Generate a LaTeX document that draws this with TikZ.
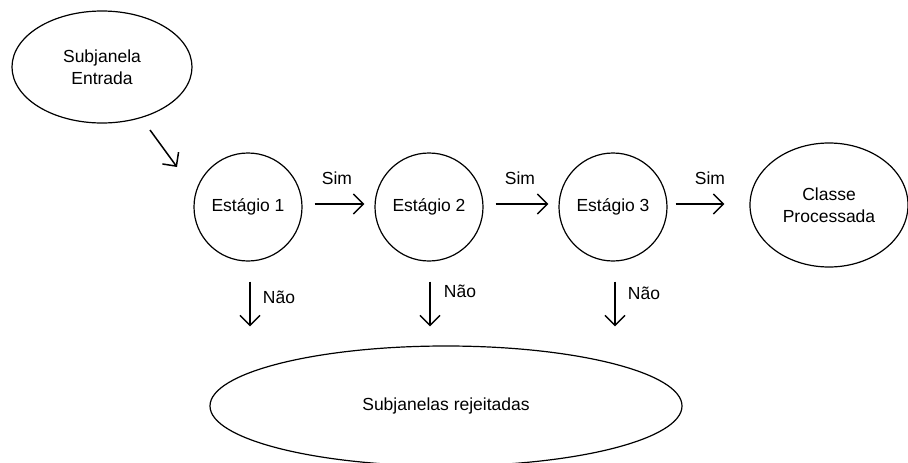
\documentclass[tikz,border=0pt]{standalone}
\usepackage{fontspec}
\setmainfont{Liberation Sans}
\usetikzlibrary{shapes.geometric,arrows.meta}
\begin{document}
\begin{tikzpicture}[x=1pt,y=-1pt,
  txt/.style={font=\fontsize{17.5}{21.5}\selectfont, align=center},
  stage/.style={txt, circle, draw, line width=1.2pt, minimum size=108pt, inner sep=0pt},
  oval/.style={txt, ellipse, draw, line width=1.2pt, inner sep=0pt},
  arr/.style={line width=1.5pt, -{Straight Barb[length=10pt,width=20pt,line width=1.5pt]}},
  lbl/.style={txt, inner sep=0pt}]
\useasboundingbox (0,0) rectangle (908,463);
\clip (0,0) rectangle (908,463);
\node[oval, minimum width=180pt, minimum height=112pt] (in) at (102,67) {Subjanela\\Entrada};
\node[stage] (s1) at (248,207) {Estágio 1};
\node[stage] (s2) at (429,207) {Estágio 2};
\node[stage] (s3) at (613,207) {Estágio 3};
\node[oval, minimum width=158pt, minimum height=124pt] (cp) at (829,205) {Classe\\Processada};
\node[oval, minimum width=472pt, minimum height=120pt] (rej) at (446,406) {Subjanelas rejeitadas};
\coordinate (a0) at (150,130);
\coordinate (a1) at (177,167);
\draw[arr] (a0) -- (a1);
\draw[arr, shorten <=12pt, shorten >=10pt] ([yshift=3pt]s1.east) -- ([yshift=3pt]s2.west);
\draw[arr, shorten <=12pt, shorten >=10pt] ([yshift=3pt]s2.east) -- ([yshift=3pt]s3.west);
\draw[arr, shorten <=8pt, shorten >=25pt] ([yshift=3pt]s3.east) -- ([yshift=3pt]s3.east -| cp.west);
\draw[arr, shorten <=20pt, shorten >=19pt] ([xshift=2pt]s1.south) -- ([xshift=2pt]s1.south |- rej.north);
\draw[arr, shorten <=20pt, shorten >=19pt] ([xshift=1pt]s2.south) -- ([xshift=1pt]s2.south |- rej.north);
\draw[arr, shorten <=20pt, shorten >=19pt] ([xshift=2pt]s3.south) -- ([xshift=2pt]s3.south |- rej.north);
\node[lbl] (l1) at (337,178) {Sim};
\node[lbl] (l2) at (520,178) {Sim};
\node[lbl] (l3) at (710,178) {Sim};
\node[lbl] (n1) at (279,297) {Não};
\node[lbl] (n2) at (460,291) {Não};
\node[lbl] (n3) at (644,293) {Não};
\end{tikzpicture}
\end{document}
